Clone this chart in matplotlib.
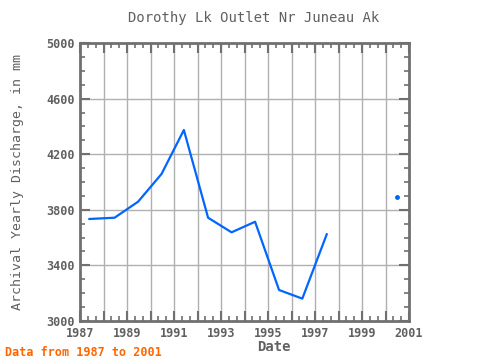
import numpy as np
import matplotlib
matplotlib.use("Agg")
import matplotlib.pyplot as plt
from matplotlib.ticker import MultipleLocator

# Data (water-year points, plotted near mid-year)
dates = [1987.40, 1988.47, 1989.47, 1990.47, 1991.42, 1992.45, 1993.45,
         1994.45, 1995.47, 1996.46, 1997.50, 1998.47, 1999.47, 2000.47]
discharge = [3734, 3743, 3858, 4058, 4374, 3743, 3638,
             3714, 3223, 3161, 3624, np.nan, np.nan, 3894]
xticks = [1987, 1989, 1991, 1993, 1995, 1997, 1999, 2001]
yticks = [3000, 3400, 3800, 4200, 4600, 5000]

title = "Dorothy Lk Outlet Nr Juneau Ak"
xlabel = "Date"
ylabel = "Archival Yearly Discharge, in mm"
note = "Data from 1987 to 2001"

plt.rcParams['font.family'] = ['DejaVu Sans Mono']
gray = '#707070'
txtgray = '#606060'

fig = plt.figure(figsize=(4.8, 3.6), dpi=100)
ax = fig.add_axes([80/480, 1-321/360, (409-80)/480, (321-43)/360])

ax.plot(dates, discharge, color='#0066ff', lw=1.6, zorder=3)
# isolated point
arr = np.array(discharge, dtype=float)
for i in range(len(arr)):
    prev_nan = i == 0 or np.isnan(arr[i-1])
    next_nan = i == len(arr)-1 or np.isnan(arr[i+1])
    if not np.isnan(arr[i]) and prev_nan and next_nan:
        ax.plot([dates[i]], [arr[i]], 'o', color='#0066ff', ms=2.5, zorder=3)

ax.set_xlim(1987, 2001)
ax.set_ylim(3000, 5000)
ax.set_yticks(yticks)
ax.xaxis.set_minor_locator(MultipleLocator(1/3))
ax.yaxis.set_minor_locator(MultipleLocator(100))

# gridlines each year and each 400
for yr in range(1988, 2001):
    ax.axvline(yr, color='#b0b0b0', lw=1, zorder=1)
for yv in yticks[1:-1]:
    ax.axhline(yv, color='#b0b0b0', lw=1, zorder=1)

# major ticks every year on x
ax.xaxis.set_major_locator(MultipleLocator(1))
ax.set_xticklabels([])
for yr in xticks:
    ax.text(yr, 2955, str(yr), ha='center', va='top', fontsize=8.5,
            fontweight='bold', color=txtgray, transform=ax.transData)

ax.tick_params(axis='both', which='major', direction='in', length=7, width=1.5,
               color=gray, top=True, right=True, labelsize=8.5, labelcolor=txtgray)
ax.tick_params(axis='both', which='minor', direction='in', length=3.5, width=1.2,
               color=gray, top=True, right=True)
ax.tick_params(axis='x', which='major', labelbottom=False)
for lab in ax.get_yticklabels():
    lab.set_fontweight('bold')

for s in ax.spines.values():
    s.set_color(gray)
    s.set_linewidth(2)

fig.text(254/480, 1-18/360, title, ha='center', va='center', fontsize=10,
         color=txtgray)
fig.text(274/480, 1-347/360, xlabel, ha='center', va='center', fontsize=10,
         fontweight='bold', color=txtgray)
fig.text(18/480, 1-182/360, ylabel, ha='center', va='center', fontsize=9.5,
         rotation=90, color=txtgray)
fig.text(5/480, 1-352/360, note, ha='left', va='center', fontsize=8.5,
         fontweight='bold', color='#ff6600')

fig.savefig('out.png', dpi=100)
